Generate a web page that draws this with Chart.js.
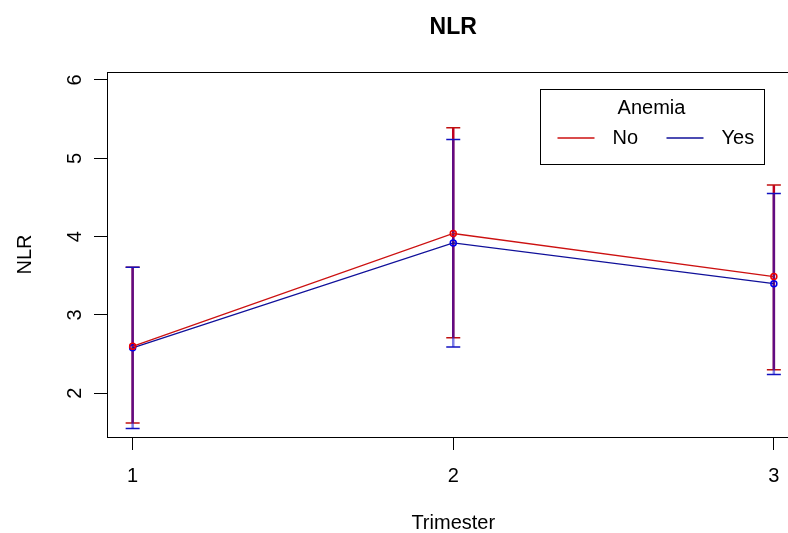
<!DOCTYPE html>
<html>
<head>
<meta charset="utf-8">
<title>NLR</title>
<script src="https://cdn.jsdelivr.net/npm/chart.js@4.4.1/dist/chart.umd.min.js"></script>
<style>
    html, body { margin: 0; padding: 0; background: #fff; overflow: hidden; }
    #wrap { width: 788px; height: 533px; overflow: hidden; }
</style>
</head>
<body>
<div id="wrap"><canvas id="nlr_chart" width="808" height="533"></canvas></div>
<script>
// values
const trimesters = [1, 2, 3];
const xTicks = [1, 2, 3];
const yTicks = [2, 3, 4, 5, 6];
const groups = ['No', 'Yes'];

const noMean = [2.60, 4.04, 3.49];
const noLow  = [1.62, 2.71, 2.30];
const noHigh = [3.61, 5.39, 4.66];

const yesMean = [2.58, 3.92, 3.40];
const yesLow  = [1.55, 2.59, 2.24];
const yesHigh = [3.61, 5.24, 4.55];

function meanPoints(means) {
    return trimesters.map((t, i) => ({x: t, y: means[i]}));
}

// low, high, then a gap so each trimester gets its own vertical segment
function barPoints(lows, highs) {
    let pts = [];
    trimesters.forEach((t, i) => {
        pts.push({x: t, y: lows[i]});
        pts.push({x: t, y: highs[i]});
        pts.push({x: t, y: null});
    });
    return pts;
}

Chart.defaults.font.family = "'Liberation Sans', Arial, sans-serif";
Chart.defaults.color = '#000';

const boxPlugin = {
    id: 'plotBox',
    afterDraw(chart) {
        const a = chart.chartArea;
        const ctx = chart.ctx;
        ctx.save();
        ctx.strokeStyle = '#000';
        ctx.lineWidth = 1;
        ctx.strokeRect(Math.round(a.left) + 0.5, Math.round(a.top) + 0.5,
            Math.round(a.right - a.left), Math.round(a.bottom - a.top));
        ctx.restore();
    }
};

const legendBox = {
    id: 'legendBox',
    afterDraw(chart) {
        const a = chart.chartArea;
        const ctx = chart.ctx;
        const items = chart.data.datasets.filter(d => d.isMean);
        const w = 224, h = 75;
        const x0 = a.right - 36 - w;
        const y0 = a.top + 17;
        ctx.save();
        ctx.fillStyle = '#fff';
        ctx.fillRect(x0, y0, w, h);
        ctx.strokeStyle = '#000';
        ctx.lineWidth = 1;
        ctx.strokeRect(Math.round(x0) + 0.5, Math.round(y0) + 0.5, w, h);
        ctx.fillStyle = '#000';
        ctx.font = "20px 'Liberation Sans', Arial, sans-serif";
        ctx.textBaseline = 'middle';
        ctx.textAlign = 'center';
        ctx.fillText('Anemia', x0 + w / 2, y0 + 19);
        ctx.textAlign = 'left';
        const rowY = y0 + 49;
        const starts = [18, 127];
        items.forEach((d, i) => {
            const lx = x0 + starts[i];
            ctx.strokeStyle = d.borderColor;
            ctx.lineWidth = 1.3;
            ctx.beginPath();
            ctx.moveTo(lx, rowY);
            ctx.lineTo(lx + 37, rowY);
            ctx.stroke();
            ctx.fillText(d.label, lx + 55, rowY);
        });
        ctx.restore();
    }
};

let ctx = document.getElementById('nlr_chart');
let nlrChart = new Chart(ctx, {
    type: 'line',
    data: {
        datasets: [
            {
                label: groups[0],
                isMean: true,
                data: meanPoints(noMean),
                borderColor: '#cc1111',
                borderWidth: 1.3,
                pointRadius: 3,
                pointBorderWidth: 1.5,
                pointBorderColor: '#ee0000',
                pointBackgroundColor: 'rgba(255,255,255,0)',
                order: 1
            },
            {
                label: groups[1],
                isMean: true,
                data: meanPoints(yesMean),
                borderColor: '#10109a',
                borderWidth: 1.3,
                pointRadius: 3,
                pointBorderWidth: 1.5,
                pointBorderColor: '#0000ee',
                pointBackgroundColor: 'rgba(255,255,255,0)',
                order: 2
            },
            {
                label: groups[0] + ' CI',
                data: barPoints(noLow, noHigh),
                borderColor: '#c00020',
                borderWidth: 2.5,
                spanGaps: false,
                pointStyle: 'line',
                pointRadius: 7,
                pointBorderWidth: 1.5,
                pointBorderColor: '#c01010',
                order: 4
            },
            {
                label: groups[1] + ' CI',
                data: barPoints(yesLow, yesHigh),
                borderColor: 'rgba(20,20,210,0.55)',
                borderWidth: 2.5,
                spanGaps: false,
                pointStyle: 'line',
                pointRadius: 7,
                pointBorderWidth: 1.5,
                pointBorderColor: '#1010c0',
                order: 3
            }
        ]
    },
    options: {
        responsive: false,
        animation: false,
        events: [],
        devicePixelRatio: 1,
        layout: { padding: 0 },
        plugins: {
            legend: { display: false },
            tooltip: { enabled: false },
            title: {
                display: true,
                text: 'NLR',
                fullSize: false,
                color: '#000',
                font: { size: 23, weight: 'bold', lineHeight: 1.2 },
                padding: { top: 14, bottom: 30.4 }
            }
        },
        scales: {
            x: {
                type: 'linear',
                min: 0.92,
                max: 3.08,
                afterBuildTicks: function(scale) {
                    scale.ticks = xTicks.map(v => ({value: v}));
                },
                afterFit: function(scale) {
                    scale.height = 96;
                },
                grid: {
                    drawOnChartArea: false,
                    tickLength: 13,
                    tickColor: '#000',
                    color: '#000'
                },
                border: { display: true, color: '#000', width: 1 },
                ticks: {
                    color: '#000',
                    font: { size: 20 },
                    padding: 14,
                    maxRotation: 0,
                    autoSkip: false,
                    callback: v => String(v)
                },
                title: {
                    display: true,
                    text: 'Trimester',
                    color: '#000',
                    font: { size: 20, lineHeight: 1 },
                    padding: { top: 0, bottom: 0 }
                }
            },
            y: {
                type: 'linear',
                min: 1.442,
                max: 6.102,
                afterBuildTicks: function(scale) {
                    scale.ticks = yTicks.map(v => ({value: v}));
                },
                afterFit: function(scale) {
                    scale.width = 107;
                },
                grid: {
                    drawOnChartArea: false,
                    tickLength: 13,
                    tickColor: '#000',
                    color: '#000'
                },
                border: { display: true, color: '#000', width: 1 },
                ticks: {
                    color: '#000',
                    font: { size: 20 },
                    padding: 13,
                    minRotation: 90,
                    maxRotation: 90,
                    crossAlign: 'center',
                    autoSkip: false,
                    callback: v => String(v)
                },
                title: {
                    display: true,
                    text: 'NLR',
                    color: '#000',
                    font: { size: 20, lineHeight: 1 },
                    padding: { top: 15, bottom: 0 }
                }
            }
        }
    },
    plugins: [boxPlugin, legendBox]
});
</script>
</body>
</html>
